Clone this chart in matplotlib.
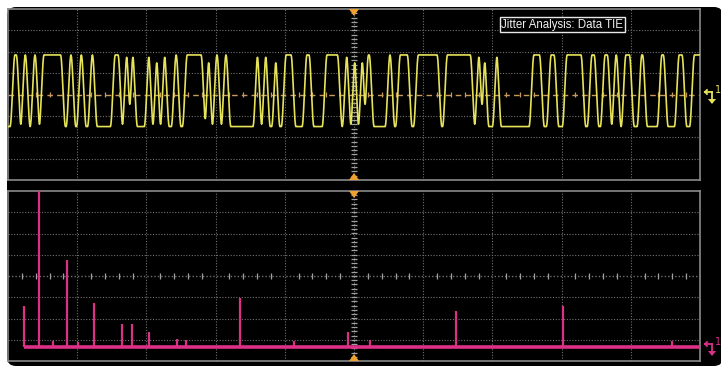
import numpy as np
import matplotlib.pyplot as plt
from matplotlib.patches import FancyBboxPatch, Polygon

# --- data (time axis in divisions, 10 div across) ---
# yellow trace: times of the logic transitions, starting from low
edge_times = [0.04, 0.13, 0.19, 0.26, 0.33, 0.40, 0.46, 0.77, 0.85, 0.92,
              1.00, 1.07, 1.16, 1.23, 1.49, 1.60, 1.66, 1.72, 1.76, 1.81,
              1.98, 2.04, 2.10, 2.15, 2.21, 2.27, 2.37, 2.44, 2.53, 2.80,
              2.85, 2.90, 2.96, 3.03, 3.09, 3.16, 3.55, 3.61, 3.67, 3.73,
              3.82, 3.87, 3.96, 4.10, 4.26, 4.36, 4.55, 4.77, 4.84, 4.90,
              4.96, 5.01, 5.07, 5.12, 5.16, 5.23, 5.46, 5.53, 5.61, 5.78,
              5.87, 6.21, 6.29, 6.69, 6.75, 6.81, 6.85, 6.89, 7.01, 7.07,
              7.54, 7.69, 7.79, 7.90, 8.02, 8.29, 8.38, 8.48, 8.57, 8.67,
              8.73, 8.80, 8.87, 8.99, 9.10, 9.18, 9.39, 9.48, 9.64, 9.75,
              9.86]
high_level = 1.85
low_level = -1.5

# magenta trace: TIE spectrum lines (position, height above floor, div)
spike_pos = [0.23, 0.45, 0.65, 0.85, 1.01, 1.24, 1.65, 1.79, 2.04, 2.44,
             2.57, 3.35, 4.13, 4.91, 5.23, 6.47, 8.02, 9.60]
spike_height = [1.93, 7.40, 0.28, 4.09, 0.24, 2.07, 1.08, 1.08, 0.71, 0.38,
                0.33, 2.31, 0.28, 0.72, 0.33, 1.71, 1.93, 0.28]
floor_level = -3.34
floor_start = 0.23

YELLOW = '#e6e35a'
PINK = '#dc2f88'
ORANGE = '#f0a030'
GRID = '#707070'
EDGE = '#8a8a8a'


def slew_trace(edges, hi, lo, rise, t_end=10.0):
    slew = (hi - lo) / rise
    ts, vs = [0.0], [lo]
    v = lo
    bounds = list(edges) + [t_end]
    for k, t0 in enumerate(edges):
        target = hi if k % 2 == 0 else lo
        t1 = bounds[k + 1]
        ts.append(t0)
        vs.append(v)
        need = abs(target - v) / slew
        if t0 + need < t1:
            ts.append(t0 + need)
            vs.append(target)
            v = target
        else:
            v = v + np.sign(target - v) * slew * (t1 - t0)
    ts.append(t_end)
    vs.append(v)
    # round the corners a little (scope bandwidth)
    tt = np.linspace(0, t_end, 4001)
    vv = np.interp(tt, ts, vs)
    k = 4
    pad = np.concatenate([np.full(k, vv[0]), vv, np.full(k, vv[-1])])
    vv = np.convolve(pad, np.ones(2 * k + 1) / (2 * k + 1), mode='same')[k:-k]
    return tt, vv


def setup_panel(ax, center_color, center_dash, tick_color):
    ax.set_facecolor('black')
    ax.set_xlim(0, 10)
    ax.set_ylim(-4, 4)
    ax.set_xticks([])
    ax.set_yticks([])
    for s in ax.spines.values():
        s.set_color(EDGE)
        s.set_linewidth(1.2)
    for x in range(1, 10):
        ax.axvline(x, color=GRID, lw=0.8, ls=(0, (1, 1.5)))
    for y in range(-3, 4):
        if y != 0:
            ax.axhline(y, color=GRID, lw=0.8, ls=(0, (1, 1.5)))
    # center axes with minor ticks
    ax.axhline(0, color=center_color, lw=1.0, ls=center_dash)
    minor_y = np.arange(-4, 4.01, 0.2)
    ax.hlines(minor_y, 4.96, 5.04, color='#a0a0a0', lw=0.9)
    minor_x = [x for x in np.arange(0.2, 10, 0.2) if abs(x - round(x)) > 0.05]
    ax.vlines(minor_x, -0.12, 0.12, color=tick_color, lw=0.9)


fig = plt.figure(figsize=(7.21, 3.67), dpi=100)
fig.patch.set_facecolor('white')

W, H = 721, 367
bg = fig.add_axes([0, 0, 1, 1], zorder=0)
bg.set_xlim(0, W)
bg.set_ylim(H, 0)
bg.axis('off')
bg.add_patch(FancyBboxPatch((9, 9), W - 9, H - 12, boxstyle='round,pad=2,rounding_size=9',
                            fc='black', ec='none'))


def px_box(x0, y0, x1, y1):
    return [x0 / W, (H - y1) / H, (x1 - x0) / W, (y1 - y0) / H]


ax1 = fig.add_axes(px_box(8, 9, 700, 180), zorder=1)
ax2 = fig.add_axes(px_box(8, 191, 700, 361), zorder=1)
setup_panel(ax1, '#c89a60', (0, (4, 3)), '#c89a60')
setup_panel(ax2, GRID, (0, (1, 1.5)), '#a0a0a0')

t, v = slew_trace(edge_times, high_level, low_level, rise=0.05)
ax1.plot(t, v, color=YELLOW, lw=1.2, zorder=5)

ax1.text(7.13, 3.27, 'Jitter Analysis: Data TIE', color='#f0f0f0',
         fontfamily='Liberation Sans', fontsize=8.3, va='center', ha='left',
         zorder=6, bbox=dict(boxstyle='square,pad=0.15', fc='black', ec='#e8e8e8', lw=1))

ax2.hlines(floor_level, floor_start, 10, color=PINK, lw=2.6, zorder=5)
ax2.vlines(spike_pos, floor_level, floor_level + np.array(spike_height),
           color=PINK, lw=1.6, zorder=5)

# overlay: orange center markers and channel markers
ov = fig.add_axes([0, 0, 1, 1], zorder=3)
ov.set_xlim(0, W)
ov.set_ylim(H, 0)
ov.axis('off')
cx = 354
for y0, d in [(9, 1), (180, -1), (191, 1), (361, -1)]:
    ov.add_patch(Polygon([(cx - 5, y0), (cx + 5, y0), (cx, y0 + 7 * d)],
                         closed=True, fc=ORANGE, ec='none'))


def chan_marker(y, color):
    ov.plot([712, 705], [y - 3, y - 3], color=color, lw=1.3)
    ov.plot([705, 707], [y - 3, y - 5], color=color, lw=1.3)
    ov.plot([705, 707], [y - 3, y - 1], color=color, lw=1.3)
    ov.plot([712, 712], [y - 3, y + 4], color=color, lw=1.3)
    ov.add_patch(Polygon([(708, y + 4), (716, y + 4), (712, y + 9)], closed=True,
                         fc=color, ec='none'))
    ov.text(715, y - 5, '1', color=color, fontsize=7, fontfamily='DejaVu Sans',
            ha='left', va='center')


chan_marker(95, YELLOW)
chan_marker(347, PINK)

fig.savefig('out.png', dpi=100, facecolor='white')
